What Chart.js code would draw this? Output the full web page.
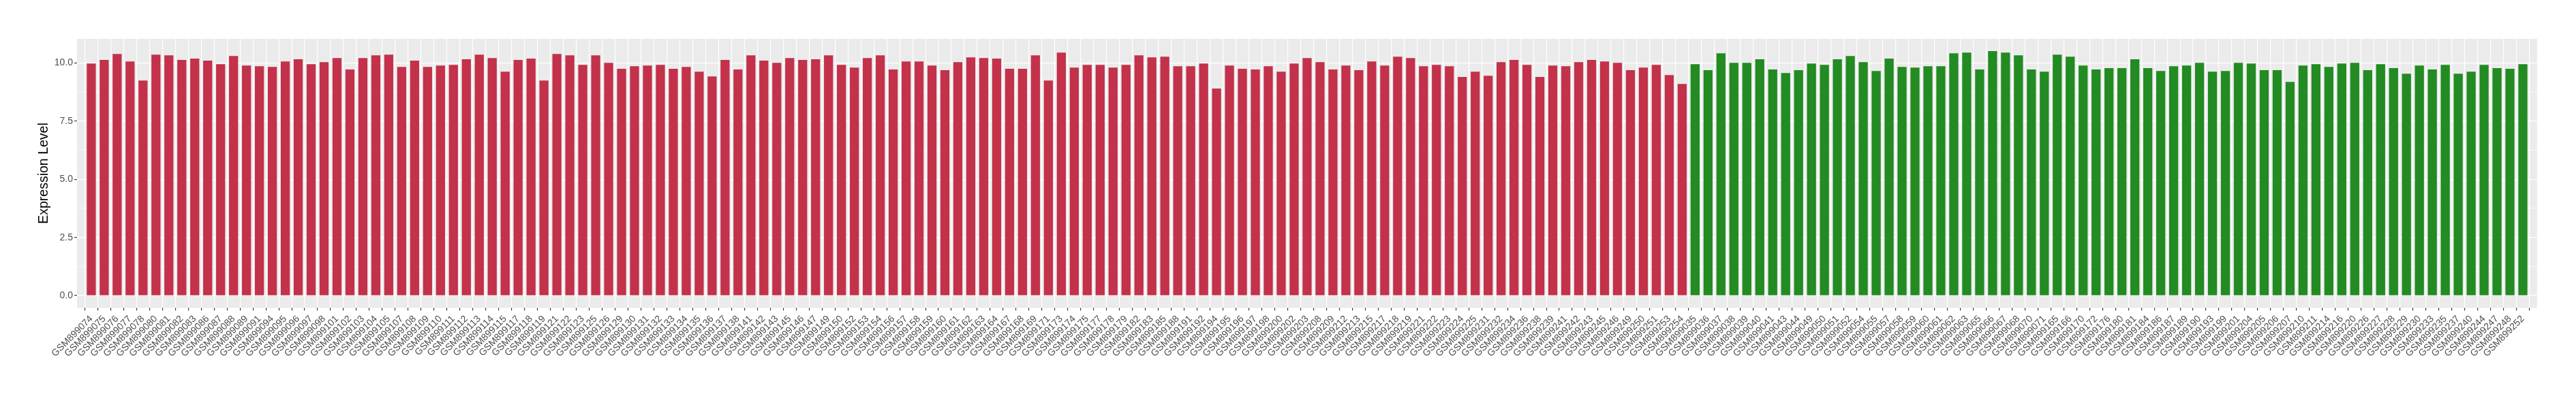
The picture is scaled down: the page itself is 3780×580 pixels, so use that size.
<!DOCTYPE html>
<html>
<head>
<meta charset="utf-8">
<script src="https://cdn.jsdelivr.net/npm/chart.js@4.4.1/dist/chart.umd.min.js"></script>
<style>
html,body{margin:0;padding:0;background:#ffffff;}
#wrap{width:3780px;height:580px;}
</style>
</head>
<body>
<div id="wrap"><canvas id="c" width="3780" height="580"></canvas></div>
<script>
// ---- data ----
const group1Samples = [
"GSM899074","GSM899075","GSM899076","GSM899077","GSM899078","GSM899080","GSM899081","GSM899082","GSM899083","GSM899086",
"GSM899087","GSM899088","GSM899089","GSM899091","GSM899094","GSM899095","GSM899096","GSM899097","GSM899098","GSM899101",
"GSM899102","GSM899103","GSM899104","GSM899105","GSM899107","GSM899108","GSM899109","GSM899110","GSM899111","GSM899112",
"GSM899113","GSM899114","GSM899115","GSM899117","GSM899118","GSM899119","GSM899121","GSM899122","GSM899123","GSM899125",
"GSM899126","GSM899129","GSM899130","GSM899131","GSM899132","GSM899133","GSM899134","GSM899135","GSM899136","GSM899137",
"GSM899138","GSM899141","GSM899142","GSM899143","GSM899145","GSM899146","GSM899147","GSM899149","GSM899150","GSM899152",
"GSM899153","GSM899154","GSM899156","GSM899157","GSM899158","GSM899159","GSM899160","GSM899161","GSM899162","GSM899163",
"GSM899164","GSM899167","GSM899168","GSM899169","GSM899171","GSM899173","GSM899174","GSM899175","GSM899177","GSM899178",
"GSM899179","GSM899182","GSM899183","GSM899185","GSM899188","GSM899191","GSM899192","GSM899194","GSM899195","GSM899196",
"GSM899197","GSM899198","GSM899200","GSM899202","GSM899203","GSM899208","GSM899209","GSM899212","GSM899213","GSM899215",
"GSM899217","GSM899218","GSM899219","GSM899221","GSM899222","GSM899223","GSM899224","GSM899225","GSM899231","GSM899232",
"GSM899234","GSM899236","GSM899238","GSM899239","GSM899241","GSM899242","GSM899243","GSM899245","GSM899246","GSM899249",
"GSM899250","GSM899251","GSM899253","GSM899254"
];
const group1Values = [
9.98,10.13,10.39,10.07,9.25,10.36,10.33,10.13,10.19,10.10,
9.95,10.30,9.89,9.86,9.83,10.07,10.16,9.95,10.04,10.21,
9.72,10.21,10.33,10.36,9.83,10.10,9.83,9.89,9.92,10.16,
10.36,10.21,9.63,10.13,10.19,9.25,10.39,10.33,9.92,10.33,
10.01,9.75,9.86,9.89,9.92,9.75,9.83,9.63,9.42,10.13,
9.72,10.33,10.10,10.01,10.21,10.13,10.16,10.33,9.92,9.80,
10.21,10.33,9.72,10.07,10.07,9.89,9.69,10.04,10.24,10.21,
10.19,9.75,9.75,10.33,9.25,10.45,9.80,9.92,9.92,9.80,
9.92,10.33,10.24,10.27,9.86,9.86,9.98,8.90,9.89,9.75,
9.72,9.86,9.63,9.98,10.21,10.04,9.72,9.89,9.69,10.07,
9.89,10.27,10.21,9.86,9.92,9.86,9.40,9.63,9.45,10.04,
10.13,9.92,9.40,9.89,9.86,10.04,10.13,10.07,10.01,9.69,
9.80,9.92,9.48,9.10
];
const group2Samples = [
"GSM899035","GSM899036","GSM899037","GSM899038","GSM899039","GSM899040","GSM899041","GSM899043","GSM899044","GSM899049",
"GSM899050","GSM899051","GSM899052","GSM899054","GSM899055","GSM899057","GSM899058","GSM899059","GSM899060","GSM899061",
"GSM899062","GSM899063","GSM899065","GSM899066","GSM899067","GSM899068","GSM899070","GSM899071","GSM899165","GSM899166",
"GSM899170","GSM899172","GSM899176","GSM899180","GSM899181","GSM899184","GSM899186","GSM899187","GSM899189","GSM899190",
"GSM899193","GSM899199","GSM899201","GSM899204","GSM899205","GSM899206","GSM899207","GSM899210","GSM899211","GSM899214",
"GSM899216","GSM899220","GSM899226","GSM899227","GSM899228","GSM899229","GSM899230","GSM899233","GSM899235","GSM899237",
"GSM899240","GSM899244","GSM899247","GSM899248","GSM899252"
];
const group2Values = [
9.95,9.69,10.42,10.01,10.01,10.16,9.72,9.57,9.69,9.98,
9.92,10.16,10.30,10.04,9.66,10.19,9.83,9.80,9.86,9.86,
10.42,10.45,9.72,10.51,10.45,10.33,9.72,9.63,10.36,10.27,
9.89,9.72,9.78,9.78,10.16,9.78,9.66,9.86,9.89,10.01,
9.63,9.66,10.01,9.98,9.69,9.69,9.19,9.89,9.95,9.83,
9.98,10.01,9.69,9.95,9.78,9.54,9.89,9.72,9.92,9.54,
9.63,9.92,9.78,9.75,9.95
];
const yTickValues = [0, 2.5, 5, 7.5, 10];
const yMinorValues = [1.25, 3.75, 6.25, 8.75];
const groupColors = ["#C3314A", "#228B22"];
const yTitle = "Expression Level";

// ---- build what the library needs ----
const samples = group1Samples.concat(group2Samples);
const values = group1Values.concat(group2Values);
const barColors = group1Values.map(() => groupColors[0]).concat(group2Values.map(() => groupColors[1]));
const points = values.map((v, i) => ({x: i, y: v}));

Chart.defaults.font.family = "'Liberation Sans', Arial, Helvetica, sans-serif";

const panelBg = {
  id: 'panelBg',
  beforeDraw(chart) {
    const {ctx, chartArea: a} = chart;
    ctx.save();
    ctx.fillStyle = '#EBEBEB';
    ctx.fillRect(a.left, a.top, a.right - a.left, a.bottom - a.top);
    ctx.restore();
  }
};

new Chart(document.getElementById('c'), {
  type: 'bar',
  data: {
    datasets: [{
      data: points,
      backgroundColor: barColors,
      borderWidth: 0,
      barPercentage: 0.7,
      categoryPercentage: 1.0
    }]
  },
  plugins: [panelBg],
  options: {
    responsive: false,
    devicePixelRatio: 1,
    animation: false,
    layout: { padding: { left: 0, right: 57, top: 57, bottom: 0 } },
    plugins: { legend: { display: false }, tooltip: { enabled: false } },
    scales: {
      x: {
        type: 'linear',
        min: -0.6,
        max: samples.length - 1 + 0.6,
        afterBuildTicks: (s) => { s.ticks = samples.map((_, i) => ({value: i})); },
        afterFit: (s) => { s.height = 128; },
        border: { display: false },
        grid: { color: '#FFFFFF', lineWidth: 1.2, drawTicks: true, tickLength: 4, tickColor: '#333333', tickWidth: 1.1 },
        ticks: {
          autoSkip: false, minRotation: 45, maxRotation: 45, padding: 4,
          color: '#4D4D4D', font: { size: 14 },
          callback: (v) => samples[v]
        }
      },
      y: {
        type: 'linear',
        position: 'left',
        min: -0.525,
        max: 11.04,
        afterBuildTicks: (s) => { s.ticks = yTickValues.map(v => ({value: v})); },
        afterFit: (s) => { s.width = 113; },
        border: { display: false },
        grid: { color: '#FFFFFF', lineWidth: 1.2, drawTicks: true, tickLength: 4, tickColor: '#333333', tickWidth: 1.1 },
        ticks: { color: '#4D4D4D', font: { size: 14 }, padding: 2, callback: (v) => Number(v).toFixed(1) },
        title: { display: true, text: yTitle, color: '#000000', font: { size: 19.5 }, padding: { top: 53, bottom: 0 } }
      },
      yMinor: {
        type: 'linear',
        position: 'left',
        min: -0.525,
        max: 11.04,
        afterBuildTicks: (s) => { s.ticks = yMinorValues.map(v => ({value: v})); },
        afterFit: (s) => { s.width = 0; },
        border: { display: false },
        grid: { color: '#FFFFFF', lineWidth: 0.6, drawTicks: false },
        ticks: { display: false }
      }
    }
  }
});
</script>
</body>
</html>
